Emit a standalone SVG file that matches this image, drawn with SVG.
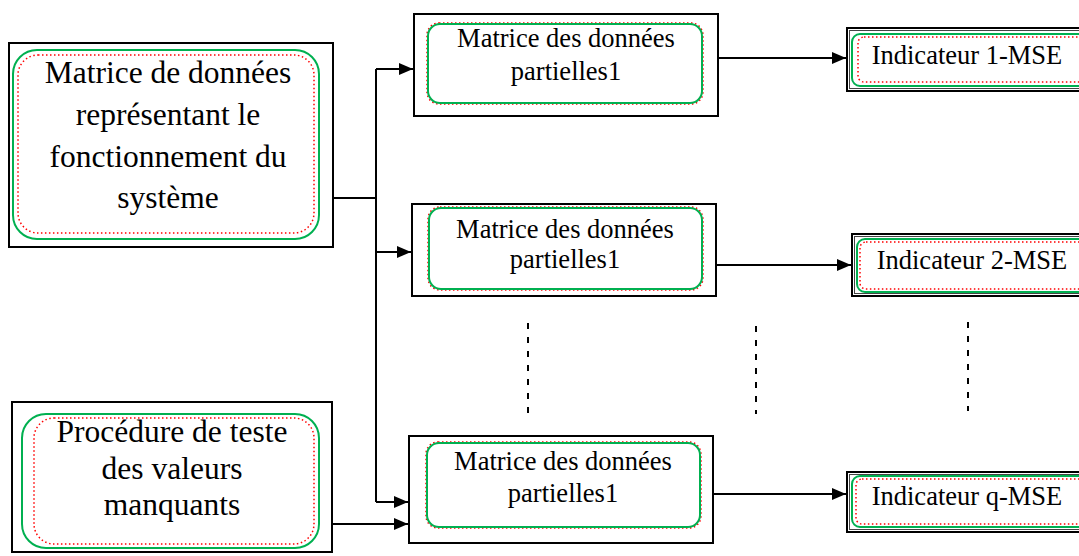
<svg xmlns="http://www.w3.org/2000/svg" width="1079" height="556" viewBox="0 0 1079 556">
<style>
.outer{fill:#fff;stroke:#000;stroke-width:2}
.dbl{fill:none;stroke:#444;stroke-width:1}
.green{fill:none;stroke:#00b050;stroke-width:2}
.red{fill:none;stroke:#ff0000;stroke-width:1.5;stroke-dasharray:1.5 2.5}
.t{font-family:"Liberation Serif","Times New Roman",serif;fill:#000;text-anchor:middle}
.big{font-size:31.5px}
.mid{font-size:26.5px}
.conn{fill:none;stroke:#000;stroke-width:2}
.dash{fill:none;stroke:#000;stroke-width:2;stroke-dasharray:6 8}
</style>
<defs>
<marker id="arr" viewBox="0 0 14 12" refX="14" refY="6" markerWidth="14" markerHeight="12" markerUnits="userSpaceOnUse" orient="auto">
<path d="M0,0 L14,6 L0,12 Z" fill="#000"/>
</marker>
</defs>
<rect width="1079" height="556" fill="#fff"/>

<g id="node-source">
<rect class="outer" x="9" y="43" width="324" height="204"/>
<rect class="green" x="13" y="50" width="306" height="189" rx="24"/>
<rect class="red" x="18" y="55" width="296" height="178" rx="20"/>
<text class="t big" x="168" y="83">Matrice de données</text>
<text class="t big" x="168" y="125">représentant le</text>
<text class="t big" x="168" y="167">fonctionnement du</text>
<text class="t big" x="168" y="208">système</text>
</g>

<g id="node-procedure">
<rect class="outer" x="12" y="402" width="320" height="150"/>
<rect class="green" x="22" y="414" width="297" height="134" rx="24"/>
<rect class="red" x="34" y="418" width="280" height="126" rx="20"/>
<text class="t big" x="172" y="442">Procédure de teste</text>
<text class="t big" x="172" y="479">des valeurs</text>
<text class="t big" x="172" y="515">manquants</text>
</g>

<g id="node-matrice1">
<rect class="outer" x="414" y="14" width="304" height="102"/>
<rect class="red" x="427" y="23" width="276" height="81" rx="12"/>
<rect class="green" x="428" y="24" width="274" height="79" rx="12"/>
<text class="t mid" x="566" y="47">Matrice des données</text>
<text class="t mid" x="566" y="80">partielles1</text>
</g>

<g id="node-matrice2">
<rect class="outer" x="412" y="204" width="304" height="92"/>
<rect class="red" x="428" y="207" width="275" height="83" rx="12"/>
<rect class="green" x="429" y="208" width="273" height="81" rx="12"/>
<text class="t mid" x="565" y="238">Matrice des données</text>
<text class="t mid" x="565" y="268">partielles1</text>
</g>

<g id="node-matrice3">
<rect class="outer" x="409" y="436" width="304" height="107"/>
<rect class="red" x="426" y="442" width="275" height="86" rx="12"/>
<rect class="green" x="427" y="443" width="273" height="84" rx="12"/>
<text class="t mid" x="563" y="470">Matrice des données</text>
<text class="t mid" x="563" y="502">partielles1</text>
</g>

<g id="node-ind1">
<rect class="outer" x="847" y="28" width="240" height="63"/>
<rect class="dbl" x="849.5" y="30.5" width="240" height="58"/>
<rect class="green" x="852" y="34" width="240" height="52" rx="8"/>
<rect class="red" x="858" y="37" width="230" height="45" rx="6"/>
<text class="t mid" x="967" y="64">Indicateur 1-MSE</text>
</g>

<g id="node-ind2">
<rect class="outer" x="852" y="234" width="240" height="62"/>
<rect class="dbl" x="854.5" y="236.5" width="240" height="57"/>
<rect class="green" x="857" y="239" width="240" height="53" rx="8"/>
<rect class="red" x="860" y="242" width="230" height="47" rx="6"/>
<text class="t mid" x="972" y="269">Indicateur 2-MSE</text>
</g>

<g id="node-indq">
<rect class="outer" x="847" y="472" width="240" height="60"/>
<rect class="dbl" x="849.5" y="474.5" width="240" height="55"/>
<rect class="green" x="852" y="476" width="240" height="51" rx="8"/>
<rect class="red" x="856" y="479" width="230" height="45" rx="6"/>
<text class="t mid" x="967" y="505">Indicateur q-MSE</text>
</g>

<g id="connectors">
<polyline class="conn" points="333,198 376,198"/>
<polyline class="conn" points="376,69 376,502"/>
<polyline class="conn" points="376,69 413,69" marker-end="url(#arr)"/>
<polyline class="conn" points="376,252 411,252" marker-end="url(#arr)"/>
<polyline class="conn" points="376,502 408,502" marker-end="url(#arr)"/>
<polyline class="conn" points="332,524 408,524" marker-end="url(#arr)"/>
<polyline class="conn" points="718,58 846,58" marker-end="url(#arr)"/>
<polyline class="conn" points="716,265 851,265" marker-end="url(#arr)"/>
<polyline class="conn" points="713,494 846,494" marker-end="url(#arr)"/>
<line class="dash" x1="528" y1="323" x2="528" y2="413"/>
<line class="dash" x1="756" y1="326" x2="756" y2="414"/>
<line class="dash" x1="968" y1="322" x2="968" y2="411"/>
</g>
</svg>
